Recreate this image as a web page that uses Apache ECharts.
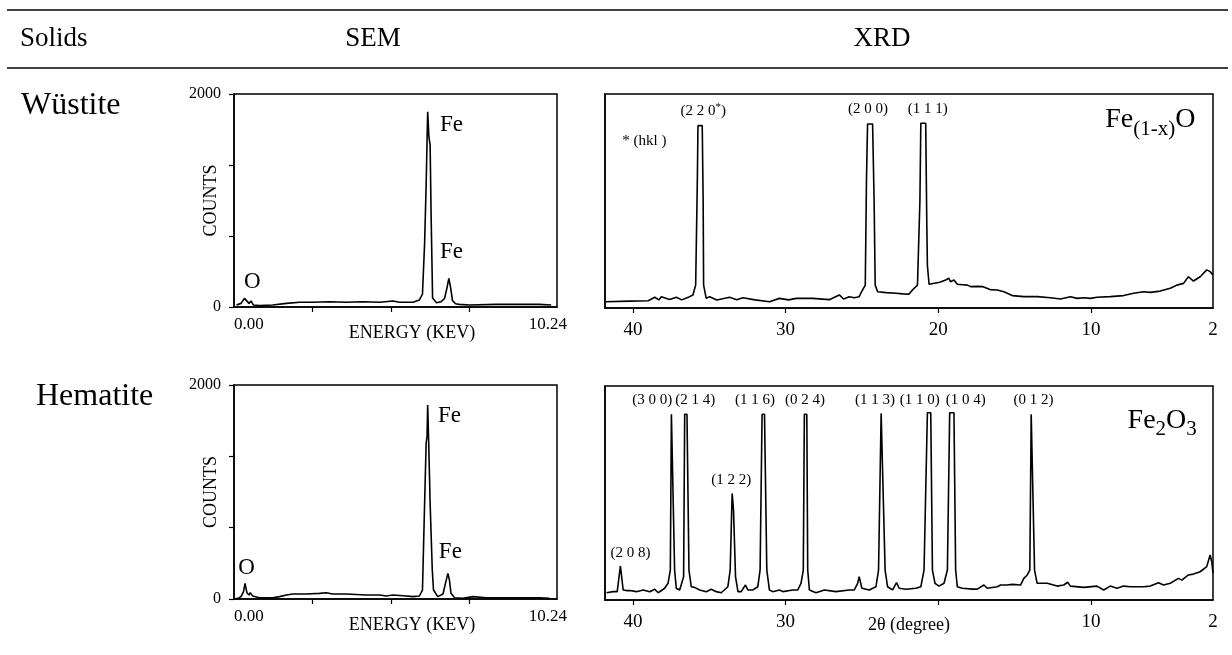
<!DOCTYPE html>
<html><head><meta charset="utf-8">
<script src="https://cdn.jsdelivr.net/npm/echarts@6/dist/echarts.min.js"></script>
<style>html,body{margin:0;padding:0;background:#fff}#c{width:1232px;height:655px}</style>
</head><body><div id="c"></div>
<script>
// ---------- DATA ----------
// SEM (EDS) spectra: [energy keV, counts]
const semWustite = [[0.08,19],[0.23,34],[0.34,81],[0.40,66],[0.49,34],[0.56,56],[0.63,19],[0.83,13],[1.26,19],[1.71,34],[2.14,44],[2.57,44],[3.12,50],[3.66,44],[4.20,50],[4.75,44],[5.19,56],[5.40,44],[5.84,44],[6.05,66],[6.15,120],[6.22,600],[6.27,1146],[6.32,1834],[6.36,1600],[6.40,1521],[6.43,900],[6.48,85],[6.61,40],[6.76,50],[6.87,80],[6.95,180],[7.01,269],[7.07,180],[7.13,60],[7.23,30],[7.35,25],[7.68,19],[8.55,25],[9.10,25],[9.96,25],[10.35,19]];
const semHematite = [[0.00,0],[0.13,6],[0.23,22],[0.31,69],[0.36,146],[0.42,59],[0.49,37],[0.53,59],[0.61,28],[0.83,12],[1.26,12],[1.49,22],[1.71,37],[1.92,47],[2.36,47],[2.79,53],[3.01,59],[3.22,47],[3.66,47],[4.32,37],[4.75,37],[4.97,28],[5.19,37],[5.62,28],[5.84,22],[6.05,28],[6.15,84],[6.22,895],[6.27,1456],[6.30,1518],[6.32,1814],[6.35,1500],[6.40,895],[6.47,271],[6.51,84],[6.65,22],[6.82,47],[6.90,146],[6.98,240],[7.03,178],[7.08,53],[7.20,12],[7.47,6],[7.80,22],[8.23,12],[8.88,12],[9.53,12],[9.96,12],[10.29,6]];
// XRD patterns: [2theta degree, relative intensity]
const xrdWustite = [[41.8,2.9],[40.2,3.2],[39.0,3.4],[38.57,5.0],[38.3,3.8],[38.14,5.3],[37.6,4.0],[37.16,5.0],[36.8,3.8],[36.29,5.3],[36.07,6.1],[35.89,10.7],[35.78,60],[35.74,85.2],[35.46,85.2],[35.4,50],[35.37,10.7],[35.2,4.5],[34.98,5.3],[34.5,3.7],[33.67,5.0],[33.2,3.9],[32.8,4.8],[32.0,3.8],[31.06,2.9],[30.4,4.5],[29.8,3.8],[29.31,4.5],[28.22,4.5],[27.14,3.9],[26.48,6.1],[26.2,4.2],[25.83,5.3],[25.5,4.8],[25.18,5.3],[25.07,6.9],[24.78,10.7],[24.7,60],[24.63,86],[24.3,86],[24.2,50],[24.13,10.7],[23.97,7.6],[23.87,7.6],[23.4,7.2],[22.78,6.9],[22.3,6.6],[21.91,6.5],[21.69,8.4],[21.36,10.7],[21.2,50],[21.14,86.3],[20.82,86.3],[20.75,40],[20.71,20],[20.6,11.1],[20.49,11.1],[19.9,12.0],[19.51,13.1],[19.3,13.9],[19.2,12.3],[18.97,13.1],[18.75,11.1],[18.4,10.9],[18.09,10.7],[17.88,10.0],[17.4,10.1],[17.11,10.0],[16.6,8.6],[16.13,8.4],[15.7,7.6],[15.15,5.8],[14.39,5.3],[13.52,5.3],[12.65,4.8],[11.99,4.2],[11.34,5.3],[10.9,4.5],[10.47,4.8],[10.03,4.5],[9.6,5.0],[8.73,5.3],[7.86,5.8],[7.2,6.9],[6.55,7.6],[6.11,7.3],[5.46,7.9],[4.8,9.2],[4.37,10.7],[3.93,11.5],[3.61,14.6],[3.28,12.6],[2.84,14.6],[2.41,17.8],[2.19,17.0],[2.08,17.8],[2.0,15.4]];
const xrdHematite = [[41.73,3.4],[41.3,3.9],[41.03,3.9],[40.82,15.9],[40.64,4.7],[40.42,4.4],[40.2,4.4],[39.77,3.9],[39.33,4.7],[38.9,3.9],[38.57,5.0],[38.35,3.4],[37.92,5.5],[37.7,7.8],[37.55,14.0],[37.48,86.8],[37.37,86.8],[37.27,14.0],[37.16,5.5],[36.94,4.7],[36.68,10.9],[36.61,86.8],[36.46,86.8],[36.33,14.0],[36.18,6.2],[35.96,5.9],[35.63,4.7],[35.2,3.9],[34.87,5.0],[34.54,3.9],[34.22,3.4],[33.78,6.2],[33.63,14.0],[33.5,49.8],[33.41,42],[33.28,10.9],[33.12,3.9],[32.91,3.9],[32.63,7.0],[32.47,4.7],[32.14,4.7],[31.82,6.2],[31.67,14.0],[31.54,86.8],[31.38,86.8],[31.23,14.0],[31.06,4.7],[30.84,3.9],[30.4,4.7],[30.18,3.9],[29.53,4.7],[29.2,4.7],[28.99,7.8],[28.84,14.0],[28.77,86.8],[28.61,86.8],[28.55,14.0],[28.44,4.7],[28.01,3.4],[27.46,4.7],[26.7,3.9],[25.83,4.7],[25.5,4.7],[25.28,7.8],[25.18,10.9],[25.0,5.5],[24.52,4.7],[24.08,6.2],[23.91,14.0],[23.74,87.2],[23.61,87.2],[23.48,14.0],[23.32,6.2],[22.99,4.7],[22.73,8.1],[22.56,5.5],[22.12,5.0],[21.47,5.5],[21.14,6.2],[20.93,14.0],[20.71,87.5],[20.49,87.5],[20.38,14.0],[20.21,7.8],[19.95,6.5],[19.62,7.8],[19.4,14.0],[19.25,87.5],[18.97,87.5],[18.86,14.0],[18.75,6.2],[18.42,5.5],[18.31,5.5],[17.77,5.1],[17.44,5.1],[17.01,7.0],[16.79,5.5],[16.13,6.2],[15.92,7.0],[15.48,7.0],[15.15,7.3],[14.61,7.0],[14.39,10.1],[14.17,11.7],[14.0,14.0],[13.91,86.8],[13.78,86.8],[13.69,14.0],[13.52,7.8],[12.86,7.8],[12.21,6.5],[11.78,7.0],[11.52,8.3],[11.34,6.5],[10.47,5.9],[9.6,6.5],[9.16,4.7],[8.73,6.5],[8.29,5.5],[7.86,6.5],[7.42,6.2],[6.55,6.2],[6.11,6.5],[5.57,8.1],[5.24,7.0],[4.8,7.8],[4.26,10.1],[4.04,9.3],[3.61,11.7],[3.28,12.1],[2.84,13.2],[2.41,15.6],[2.19,21.0],[2.08,17.9],[2.0,12.5]];
// annotations anchored in data space: [x, y, text]
const semWustiteLabels = [[7.10,1709,'Fe'],[7.10,516,'Fe'],[0.60,235,'O']];
const semHematiteLabels = [[7.03,1711,'Fe'],[7.06,439,'Fe'],[0.41,290,'O']];
const xrdWustiteLabels = [[35.39,92,'(2 2 0{sup|*})'],[24.6,93,'(2 0 0)'],[20.69,93,'(1 1 1)'],[39.25,78,'* (hkl )']];
const xrdHematiteLabels = [[38.73,93.5,'(3 0 0)'],[35.92,93.5,'(2 1 4)'],[32.0,93.5,'(1 1 6)'],[28.73,93.5,'(0 2 4)'],[24.15,93.5,'(1 1 3)'],[21.21,93.5,'(1 1 0)'],[18.2,93.5,'(1 0 4)'],[13.76,93.5,'(0 1 2)'],[33.56,56,'(1 2 2)'],[40.16,22,'(2 0 8)']];
const xrdWustiteFormula = [[6.11,88,'Fe{sub|(1-x)}O']];
const xrdHematiteFormula = [[5.33,84,'Fe{sub|2}O{sub|3}']];
// tick values
const semXTicks = [2.56, 5.12, 7.68];
const semXLabels = [0, 10.24];
const semYTicks = [0, 2000/3, 4000/3, 2000];
const semYLabels = [0, 2000];
const xrdXTicks = [10, 20, 30, 40];
const xrdTopXLabels = [2, 10, 20, 30, 40];
const xrdBottomXLabels = [2, 10, 30, 40];
// headings
const headers = ['Solids', 'SEM', 'XRD'];
const solids = ['Wüstite', 'Hematite'];

// ---------- CHART ----------
const FF = '"Liberation Serif","Times New Roman",serif';
const chart = echarts.init(document.getElementById('c'));
const K = '#000';
const lineW = 1.5;

function semX(gi) {
  return {
    type: 'value', gridIndex: gi, min: 0, max: 10.54,
    axisLine: {show: true, lineStyle: {color: K, width: lineW}},
    axisTick: {show: true, inside: false, length: 5, customValues: semXTicks, lineStyle: {color: K, width: 1.2}},
    axisLabel: {show: true, customValues: semXLabels, alignMinLabel: 'left', margin: 9,
      formatter: v => v === 0 ? '0.00' : v.toFixed(2), color: K, fontFamily: FF, fontSize: 17},
    splitLine: {show: false},
    name: 'ENERGY (KEV)', nameLocation: 'middle', nameGap: 17, nameMoveOverlap: false,
    nameTextStyle: {color: K, fontFamily: FF, fontSize: 18, padding: [0, 0, 0, 33]}
  };
}
function semY(gi) {
  return {
    type: 'value', gridIndex: gi, min: 0, max: 2000,
    axisLine: {show: true, lineStyle: {color: K, width: lineW}},
    axisTick: {show: true, length: 5, customValues: semYTicks, lineStyle: {color: K, width: 1.2}},
    axisLabel: {show: true, customValues: semYLabels, margin: 13, formatter: v => String(Math.round(v)),
      color: K, fontFamily: FF, fontSize: 16},
    splitLine: {show: false},
    name: 'COUNTS', nameLocation: 'middle', nameGap: 14, nameRotate: 90, nameMoveOverlap: false,
    nameTextStyle: {color: K, fontFamily: FF, fontSize: 18}
  };
}
function xrdX(gi, labels, withName) {
  const ax = {
    type: 'value', gridIndex: gi, min: 2, max: 41.83, inverse: true,
    axisLine: {show: true, lineStyle: {color: K, width: lineW}},
    axisTick: {show: true, length: 5, customValues: xrdXTicks, lineStyle: {color: K, width: 1.2}},
    axisLabel: {show: true, customValues: labels, margin: 13, color: K, fontFamily: FF, fontSize: 19},
    splitLine: {show: false}
  };
  if (withName) {
    ax.name = '2θ (degree)'; ax.nameLocation = 'middle'; ax.nameGap = 16; ax.nameMoveOverlap = false;
    ax.nameTextStyle = {color: K, fontFamily: FF, fontSize: 18};
  }
  return ax;
}
function xrdY(gi) {
  return {
    type: 'value', gridIndex: gi, min: 0, max: 100,
    axisLine: {show: true, lineStyle: {color: K, width: lineW}},
    axisTick: {show: false}, axisLabel: {show: false}, splitLine: {show: false}
  };
}
function curve(data, gi) {
  return {type: 'line', xAxisIndex: gi, yAxisIndex: gi, data: data, showSymbol: false, symbol: 'none',
    lineStyle: {color: K, width: 1.6}, silent: true, animation: false, z: 3};
}
function labels(arr, gi, size, lh, rich) {
  return {type: 'scatter', xAxisIndex: gi, yAxisIndex: gi, symbolSize: 1, silent: true, animation: false,
    itemStyle: {color: 'rgba(0,0,0,0)', opacity: 1}, z: 5,
    data: arr.map(a => ({value: [a[0], a[1]], name: a[2]})),
    label: {show: true, position: 'inside', formatter: p => p.name, color: K, opacity: 1, fontFamily: FF,
      fontSize: size, lineHeight: lh, rich: rich || {}}};
}
const gridBox = {show: true, borderColor: K, borderWidth: lineW, backgroundColor: 'transparent'};
const subStyle = {fontSize: 21, verticalAlign: 'bottom', fontFamily: FF, color: K, lineHeight: 40};

const option = {
  backgroundColor: '#fff',
  animation: false,
  grid: [
    Object.assign({left: 234, top: 94, width: 323, height: 213}, gridBox),
    Object.assign({left: 605, top: 94, width: 608, height: 214}, gridBox),
    Object.assign({left: 234, top: 385, width: 323, height: 214}, gridBox),
    Object.assign({left: 605, top: 386, width: 608, height: 214}, gridBox)
  ],
  xAxis: [semX(0), xrdX(1, xrdTopXLabels, false), semX(2), xrdX(3, xrdBottomXLabels, true)],
  yAxis: [semY(0), xrdY(1), semY(2), xrdY(3)],
  series: [
    curve(semWustite, 0), curve(xrdWustite, 1), curve(semHematite, 2), curve(xrdHematite, 3),
    labels(semWustiteLabels, 0, 23, 26),
    labels(semHematiteLabels, 2, 23, 26),
    labels(xrdWustiteLabels, 1, 15, 20, {sup: {fontSize: 11, verticalAlign: 'top', fontFamily: FF, color: K, lineHeight: 20}}),
    labels(xrdHematiteLabels, 3, 15, 20),
    labels(xrdWustiteFormula, 1, 28, 40, {sub: subStyle}),
    labels(xrdHematiteFormula, 3, 28, 40, {sub: subStyle})
  ],
  graphic: [
    {type: 'line', silent: true, shape: {x1: 7, y1: 10, x2: 1228, y2: 10}, style: {stroke: K, lineWidth: 1.5}},
    {type: 'line', silent: true, shape: {x1: 7, y1: 68, x2: 1228, y2: 68}, style: {stroke: K, lineWidth: 1.5}},
    {type: 'text', silent: true, x: 20, y: 39, style: {text: headers[0], font: '27px ' + FF, fill: K, textAlign: 'left', textVerticalAlign: 'middle'}},
    {type: 'text', silent: true, x: 373, y: 39, style: {text: headers[1], font: '27px ' + FF, fill: K, textAlign: 'center', textVerticalAlign: 'middle'}},
    {type: 'text', silent: true, x: 882, y: 39, style: {text: headers[2], font: '27px ' + FF, fill: K, textAlign: 'center', textVerticalAlign: 'middle'}},
    {type: 'text', silent: true, x: 21, y: 106, style: {text: solids[0], font: '32px ' + FF, fill: K, textAlign: 'left', textVerticalAlign: 'middle'}},
    {type: 'text', silent: true, x: 36, y: 397, style: {text: solids[1], font: '32px ' + FF, fill: K, textAlign: 'left', textVerticalAlign: 'middle'}}
  ]
};
chart.setOption(option);
</script>
</body></html>
